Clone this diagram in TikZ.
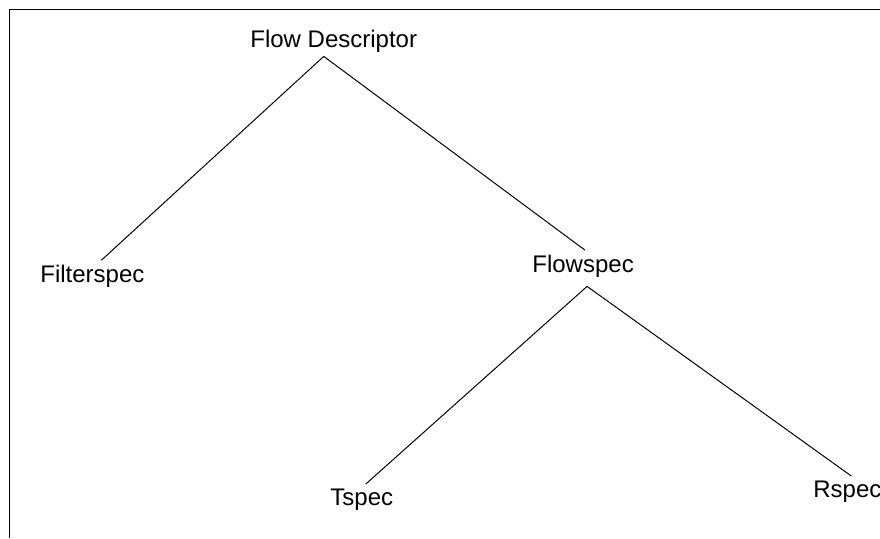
\documentclass[tikz,border=0pt]{standalone}
\usepackage{fontspec}
\setmainfont{Liberation Sans}
\usetikzlibrary{positioning}

\begin{document}
\begin{tikzpicture}[
    x=0.5pt,
    y=-0.5pt,
    term/.style={
        font=\fontsize{12}{14}\selectfont,
        inner sep=2pt,
        anchor=base west
    },
    branch/.style={
        draw=black,
        line width=0.5pt
    },
    frame/.style={
        draw=black,
        line width=0.6pt
    }
]
\useasboundingbox (0,0) rectangle (880,538);

% Frame
\draw [frame] (9.3,538) -- (9.3,9.3) -- (880,9.3);

% Nodes
\node (desc) [term] at (246,47) {Flow Descriptor};
\node (filter) [term] at (36,282) {Filterspec};
\node (flow) [term] at (528,272) {Flowspec};
\node (tspec) [term] at (326,505) {Tspec};
\node (rspec) [term] at (809,497) {Rspec};

% Paths
\draw [branch] ([xshift=-5pt]desc.south) -- ([xshift=4.5pt]filter.north);
\draw [branch] ([xshift=-5pt]desc.south) -- ([xshift=1pt]flow.north);
\draw [branch] ([xshift=2pt, yshift=-2.5pt]flow.south) -- ([xshift=2pt]tspec.north);
\draw [branch] ([xshift=2pt, yshift=-2.5pt]flow.south) -- ([xshift=2pt]rspec.north);

\end{tikzpicture}
\end{document}
